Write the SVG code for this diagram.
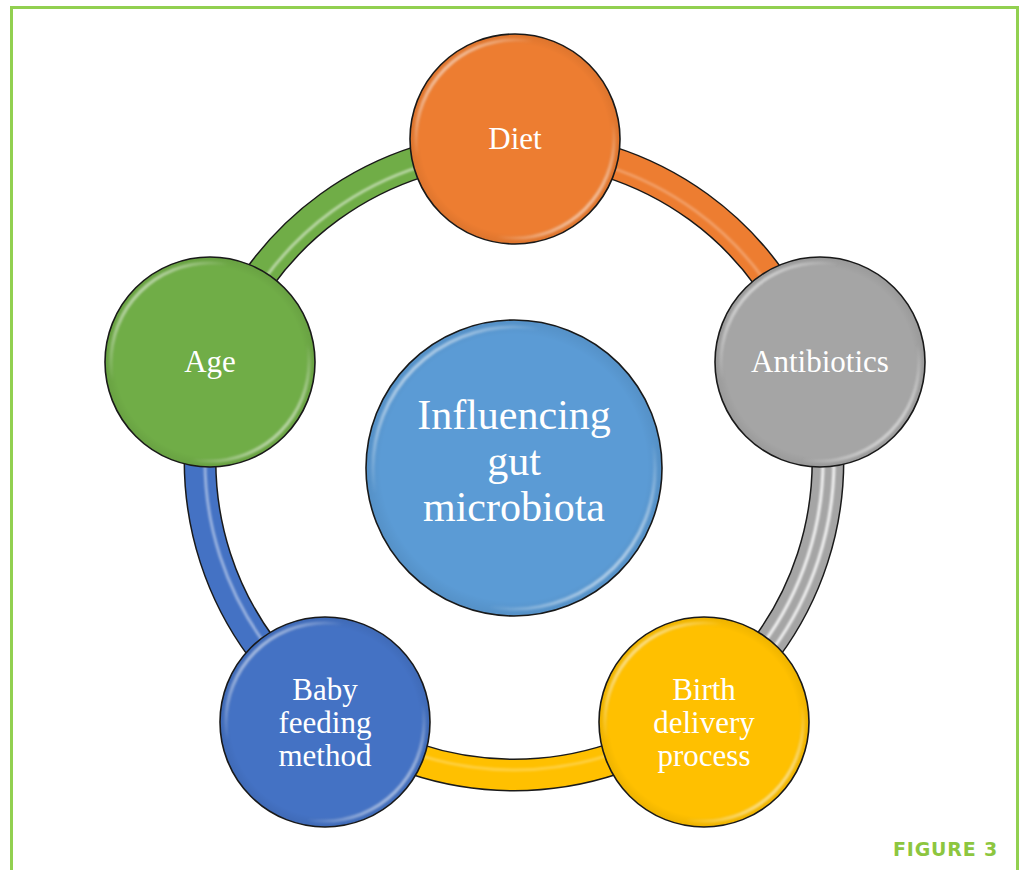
<svg xmlns="http://www.w3.org/2000/svg" width="1025" height="870" viewBox="0 0 1025 870">
  <defs>
    <style>
      .frame { fill: none; stroke: #92d050; stroke-width: 3; }
      .fig { font-family: "DejaVu Sans", sans-serif; font-weight: 900; font-size: 19px; letter-spacing: 0.8px; fill: #8dc63f; }
      .lbl { font-family: "Liberation Serif", "Times New Roman", serif; font-size: 31px; fill: #ffffff; text-anchor: middle; }
      .hub { font-family: "Liberation Serif", "Times New Roman", serif; font-size: 42px; fill: #ffffff; text-anchor: middle; }
      .node { stroke: #1a1a1a; stroke-width: 1.6; }
      .rim { fill: none; stroke: url(#rimGlow); stroke-width: 3.5; filter: url(#soft); }
      .shade { fill: url(#edgeShade); }
      .band-out { fill: none; stroke: #1a1a1a; stroke-width: 33; }
      .band { fill: none; stroke-width: 30; }
      .shine { fill: none; stroke: #ffffff; stroke-width: 3; filter: url(#soft); }
    </style>
    <linearGradient id="rimGlow" x1="0" y1="0" x2="1" y2="1">
      <stop offset="0" stop-color="#ffffff" stop-opacity="0.95"/>
      <stop offset="0.3" stop-color="#ffffff" stop-opacity="0"/>
      <stop offset="0.7" stop-color="#ffffff" stop-opacity="0"/>
      <stop offset="1" stop-color="#ffffff" stop-opacity="0.95"/>
    </linearGradient>
    <radialGradient id="edgeShade" cx="0.5" cy="0.5" r="0.5">
      <stop offset="0.9" stop-color="#000000" stop-opacity="0"/>
      <stop offset="1" stop-color="#000000" stop-opacity="0.07"/>
    </radialGradient>
    <filter id="soft" x="-10%" y="-10%" width="120%" height="120%">
      <feGaussianBlur stdDeviation="0.9"/>
    </filter>
  </defs>

  <!-- page frame -->
  <path class="frame" d="M11.5,872 V7.5 H1017.5 V872"/>
  <text class="fig" x="893" y="856">FIGURE 3</text>

  <!-- ring segments between the outer factors -->
  <g id="connectors">
    <g id="seg-diet-antibiotics">
      <path class="band-out" d="M514,147 A314,314 0 0 1 812.6,364"/>
      <path class="band" stroke="#ed7d31" d="M514,147 A314,314 0 0 1 812.6,364"/>
      <path class="shine" stroke-opacity="0.25" d="M514,152 A309,309 0 0 1 807.9,365.5"/>
    </g>
    <g id="seg-antibiotics-birth">
      <path class="band-out" d="M812.6,364 A314,314 0 0 1 698.6,715"/>
      <path class="band" stroke="#a5a5a5" d="M812.6,364 A314,314 0 0 1 698.6,715"/>
      <path class="shine" stroke-opacity="0.85" d="M807.9,365.5 A309,309 0 0 1 695.6,711"/>
      <path class="shine" stroke-opacity="0.85" d="M818.3,362.1 A320,320 0 0 1 702.1,719.9"/>
    </g>
    <g id="seg-birth-baby">
      <path class="band-out" d="M698.6,715 A314,314 0 0 1 329.4,715"/>
      <path class="band" stroke="#ffc000" d="M698.6,715 A314,314 0 0 1 329.4,715"/>
      <path class="shine" stroke-opacity="0.25" d="M695.6,711 A309,309 0 0 1 332.4,711"/>
    </g>
    <g id="seg-baby-age">
      <path class="band-out" d="M329.4,715 A314,314 0 0 1 215.4,364"/>
      <path class="band" stroke="#4472c4" d="M329.4,715 A314,314 0 0 1 215.4,364"/>
      <path class="shine" stroke-opacity="0.45" d="M332.4,711 A309,309 0 0 1 220.1,365.5"/>
    </g>
    <g id="seg-age-diet">
      <path class="band-out" d="M215.4,364 A314,314 0 0 1 514,147"/>
      <path class="band" stroke="#70ad47" d="M215.4,364 A314,314 0 0 1 514,147"/>
      <path class="shine" stroke-opacity="0.5" d="M220.1,365.5 A309,309 0 0 1 514,152"/>
    </g>
  </g>

  <!-- centre hub -->
  <g id="hub">
    <circle class="node" cx="514" cy="468" r="148" fill="#5b9bd5"/>
    <circle class="shade" cx="514" cy="468" r="148"/>
    <circle class="rim" cx="514" cy="468" r="141"/>
    <text class="hub" x="514" y="429">Influencing</text>
    <text class="hub" x="514" y="475">gut</text>
    <text class="hub" x="514" y="521">microbiota</text>
  </g>

  <g id="diet">
    <circle class="node" cx="515" cy="139" r="105" fill="#ed7d31"/>
    <circle class="shade" cx="515" cy="139" r="105"/>
    <circle class="rim" cx="515" cy="139" r="99"/>
    <text class="lbl" x="515" y="149">Diet</text>
  </g>

  <g id="antibiotics">
    <circle class="node" cx="820" cy="362" r="105" fill="#a5a5a5"/>
    <circle class="shade" cx="820" cy="362" r="105"/>
    <circle class="rim" cx="820" cy="362" r="99"/>
    <text class="lbl" x="820" y="372">Antibiotics</text>
  </g>

  <g id="birth">
    <circle class="node" cx="704" cy="722" r="105" fill="#ffc000"/>
    <circle class="shade" cx="704" cy="722" r="105"/>
    <circle class="rim" cx="704" cy="722" r="99"/>
    <text class="lbl" x="704" y="700">Birth</text>
    <text class="lbl" x="704" y="733">delivery</text>
    <text class="lbl" x="704" y="766">process</text>
  </g>

  <g id="baby">
    <circle class="node" cx="325" cy="722" r="105" fill="#4472c4"/>
    <circle class="shade" cx="325" cy="722" r="105"/>
    <circle class="rim" cx="325" cy="722" r="99"/>
    <text class="lbl" x="325" y="700">Baby</text>
    <text class="lbl" x="325" y="733">feeding</text>
    <text class="lbl" x="325" y="766">method</text>
  </g>

  <g id="age">
    <circle class="node" cx="210" cy="362" r="105" fill="#70ad47"/>
    <circle class="shade" cx="210" cy="362" r="105"/>
    <circle class="rim" cx="210" cy="362" r="99"/>
    <text class="lbl" x="210" y="372">Age</text>
  </g>
</svg>
